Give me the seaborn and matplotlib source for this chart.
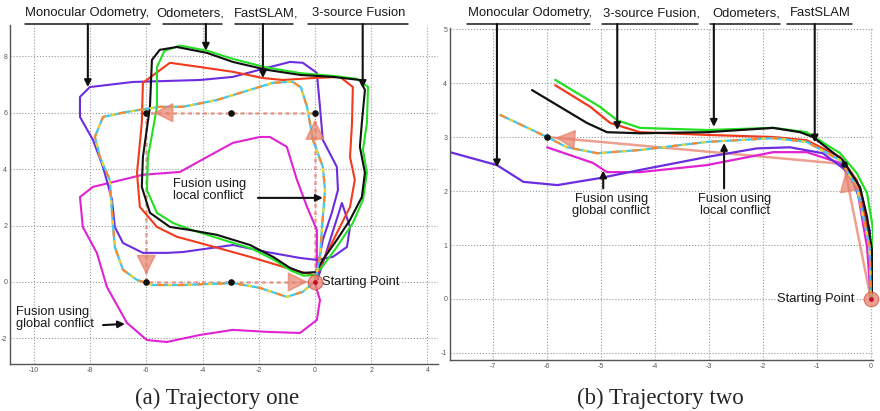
import matplotlib.pyplot as plt
import numpy as np
import seaborn as sns

# ---------------- (a) trajectory one ----------------
a_black_x = [0.07, 0.28, 0.78, 1.25, 1.67, 1.78, 1.6, 1.67, 1.78, 1.6, 1.25, 0.64, -0.53, -1.71, -2.92,
             -3.84, -4.91, -5.52, -5.8, -5.87, -6.12, -6.16, -5.87, -5.16, -4.5, -3.49, -2.31, -1.49,
             -0.89, -0.43, 0.07]
a_black_y = [0.43, 0.78, 1.49, 2.2, 3.01, 3.87, 4.79, 5.64, 6.81, 7.16, 7.2, 7.27, 7.34, 7.52, 7.8,
             8.12, 8.33, 8.23, 7.87, 6.21, 4.43, 3.37, 2.45, 1.95, 1.85, 1.67, 1.31, 0.89,
             0.5, 0.32, 0.35]
a_green_x = [0.18, 0.78, 1.35, 1.71, 1.85, 1.71, 1.85, 1.89, 1.5, 0.7, -0.5, -1.7, -2.9, -3.84, -4.8,
             -5.35, -5.62, -5.62, -5.94, -5.98, -5.62, -5.05, -4.4, -3.45, -2.25, -1.45, -0.85, -0.4, 0.1]
a_green_y = [0.43, 1.24, 2.09, 2.91, 3.87, 4.68, 5.64, 6.91, 7.2, 7.3, 7.4, 7.6, 7.9, 8.2, 8.38,
             8.2, 7.62, 6.21, 4.43, 3.26, 2.45, 2.09, 1.85, 1.55, 1.18, 0.78, 0.4, 0.22, 0.25]
a_red_x = [0.0, 0.07, 0.43, 0.89, 1.25, 1.42, 1.25, 1.32, 1.35, 0.89, -0.07, -1.14, -1.85, -2.92, -4.09,
           -5.16, -6.12, -6.16, -6.33, -6.23, -5.62, -4.91, -4.09, -2.31, -0.78, -0.07]
a_red_y = [0.0, 0.32, 1.03, 1.95, 2.66, 3.62, 4.43, 5.64, 6.91, 7.27, 7.23, 7.16, 7.23, 7.45, 7.62,
           7.77, 7.06, 5.64, 3.87, 2.66, 1.95, 1.6, 1.38, 0.89, 0.43, 0.25]
a_purple_x = [0.1, 0.1, 0.28, 0.6, 0.82, 0.78, 0.28, 0.18, 0.07, -0.43, -0.89, -1.71, -2.92, -4.09,
              -6.48, -8.01, -8.36, -8.36, -7.9, -7.54, -7.22, -7.12, -6.83, -6.12, -5.27, -4.70,
              -2.92, -1.71, -0.53, 0.07, 0.64, 1.14, 1.25, 0.96, 0.1]
a_purple_y = [0.1, 0.53, 1.49, 2.45, 3.26, 4.08, 5.04, 6.21, 7.41, 7.77, 7.8, 7.59, 7.27, 7.16,
              7.09, 6.91, 6.56, 5.85, 5.04, 4.08, 2.91, 1.95, 1.38, 1.03, 1.03, 1.06,
              1.31, 1.06, 0.85, 0.78, 0.89, 1.24, 1.95, 2.8, 0.1]
a_global_x = [0.0, 0.07, 0.07, -0.28, -0.64, -1.0, -1.6, -1.96, -2.92, -3.84, -4.8, -6.12, -7.9, -8.36,
              -8.26, -7.76, -7.4, -6.69, -5.98, -5.27, -4.09, -2.92, -1.71, -0.53, 0.07, 0.18, 0.07, 0.0]
a_global_y = [0.0, 0.53, 1.84, 2.66, 3.62, 4.79, 5.14, 5.14, 4.93, 4.43, 3.9, 3.8, 3.37, 3.01,
              1.95, 1.03, -0.18, -1.45, -2.06, -2.13, -1.88, -1.70, -1.77, -1.81, -1.35, -0.64, -0.28, 0.0]
a_local_x = [0.0, 0.18, 0.28, 0.36, 0.28, -0.07, -0.28, -0.5, -0.8, -1.49, -2.31, -3.49, -4.70, -5.52,
             -6.69, -7.54, -7.83, -7.65, -7.3, -7.22, -7.12, -6.83, -6.33, -5.77, -4.70, -2.92, -1.96,
             -1.0, -0.43, -0.07]
a_local_y = [0.0, 0.89, 2.3, 3.26, 4.08, 5.04, 6.21, 6.9, 7.1, 7.06, 6.81, 6.45, 6.21, 6.21,
             6.03, 5.85, 5.14, 4.43, 3.62, 2.45, 1.24, 0.43, 0.07, -0.11, -0.11, -0.04, -0.21,
             -0.53, -0.35, -0.04]
a_truth_x = [0, 0, -6, -6, 0]
a_truth_y = [0, 6, 6, 0, 0]
a_marks_x = [0, -3, -6, -6, -3]
a_marks_y = [6, 6, 6, 0, 0]

# ---------------- (b) trajectory two ----------------
b_green_x = [-5.85, -5.02, -4.70, -4.28, -3.04, -1.81, -1.19, -0.57, -0.26, -0.07, 0.04, 0.05, 0.02]
b_green_y = [4.06, 3.56, 3.31, 3.17, 3.13, 3.17, 3.09, 2.70, 2.33, 1.96, 1.3, 0.6, 0.04]
b_red_x = [-5.85, -5.2, -4.83, -4.28, -3.04, -1.81, -1.19, -0.57, -0.26, -0.15, 0.0, 0.02]
b_red_y = [3.96, 3.56, 3.26, 3.09, 3.04, 3.0, 2.94, 2.63, 2.20, 1.83, 0.9, 0.0]
b_black_x = [-6.28, -5.26, -4.89, -4.28, -3.04, -1.81, -1.31, -1.07, -0.52, -0.20, -0.07, 0.02, 0.02]
b_black_y = [3.87, 3.26, 3.09, 3.07, 3.09, 3.17, 3.09, 3.0, 2.57, 2.07, 1.52, 0.91, 0.11]
b_purple_x = [-7.8, -6.93, -6.44, -5.81, -5.02, -4.28, -3.04, -2.11, -1.5, -0.89, -0.39, -0.2, -0.02, 0.0]
b_purple_y = [2.72, 2.48, 2.17, 2.11, 2.24, 2.39, 2.63, 2.79, 2.81, 2.70, 2.33, 1.83, 1.28, 0.0]
b_global_x = [-6.0, -5.15, -4.89, -4.28, -3.04, -1.81, -1.19, -0.57, -0.26, -0.07, 0.0]
b_global_y = [2.81, 2.52, 2.35, 2.35, 2.48, 2.72, 2.72, 2.52, 2.07, 0.96, 0.0]
b_local_x = [-6.87, -6.0, -5.63, -5.07, -4.28, -3.04, -1.81, -1.19, -0.57, -0.26, -0.02, 0.0]
b_local_y = [3.41, 3.0, 2.81, 2.70, 2.76, 2.91, 2.98, 2.91, 2.57, 2.07, 0.96, 0.0]
b_truth_x = [0.0, -0.5, -6.0]
b_truth_y = [0.0, 2.5, 3.0]
b_marks_x = [-0.5, -6.0]
b_marks_y = [2.5, 3.0]

# top labels: (text, centre x, underline x0, x1, arrow x, arrow tip y)
a_labels = [("Monocular Odometry,", -8.10, -10.32, -5.87, -8.08, 6.91),
            ("Odometers,", -4.45, -5.41, -3.31, -3.88, 8.2),
            ("FastSLAM,", -1.74, -2.85, -0.78, -1.85, 7.23),
            ("3-source Fusion", 1.55, -0.25, 3.31, 1.7, 6.88)]
b_labels = [("Monocular Odometry,", -6.32, -7.48, -5.20, -6.93, 2.44),
            ("3-source Fusion,", -4.07, -4.98, -3.20, -4.70, 3.13),
            ("Odometers,", -2.30, -2.98, -1.69, -2.91, 3.19),
            ("FastSLAM", -0.94, -1.56, -0.35, -1.04, 2.9)]

C_BLACK = "#111111"
C_GREEN = "#22e022"
C_RED = "#f23a1c"
C_PURPLE = "#6c2de0"
C_MAGENTA = "#e022d2"
C_CYAN = "#3cc8f0"
C_SALMON = "#e8806a"

sns.set_style("white")
plt.rcParams["font.family"] = ["Liberation Sans", "DejaVu Sans"]
plt.rcParams["axes.unicode_minus"] = False
plt.rcParams["lines.solid_joinstyle"] = "round"
plt.rcParams["lines.solid_capstyle"] = "round"

fig = plt.figure(figsize=(8.8, 4.11), dpi=100)
ax_a = fig.add_axes([10 / 880, 47 / 411, 428 / 880, 339 / 411])
ax_b = fig.add_axes([450 / 880, 51 / 411, 423 / 880, 332 / 411])


def path(ax, xs, ys, color, lw=1.5, **kw):
    sns.lineplot(x=xs, y=ys, sort=False, estimator=None, color=color, lw=lw, ax=ax, **kw)


def local_path(ax, xs, ys):
    path(ax, xs, ys, C_CYAN, lw=1.6)
    path(ax, xs, ys, "#ff8a2a", lw=1.6, linestyle=(0, (3, 6)))
    path(ax, xs, ys, "#f2d22a", lw=1.6, linestyle=(4.5, (2, 7)))


def truth(ax, xs, ys, marks_x, marks_y, back, ls):
    path(ax, xs, ys, C_SALMON, lw=1.8, alpha=0.75, linestyle=ls)
    for i in range(len(xs) - 1):
        p0 = np.array([xs[i], ys[i]], float)
        p1 = np.array([xs[i + 1], ys[i + 1]], float)
        d = (p1 - p0) / np.linalg.norm(p1 - p0)
        tip = p1 - back * d
        ax.annotate("", xy=tip, xytext=tip - 0.6 * back * d,
                    arrowprops=dict(arrowstyle="-|>,head_length=0.9,head_width=0.45",
                                    color=C_SALMON, alpha=0.7, lw=1.2, mutation_scale=14,
                                    shrinkA=0, shrinkB=0))
    ax.scatter(marks_x, marks_y, s=14, color="#111111", zorder=6)
    ax.scatter([xs[0]], [ys[0]], s=110, color=C_SALMON, alpha=0.75, edgecolor="#d05040",
               linewidth=0.8, zorder=6, clip_on=False)
    ax.scatter([xs[0]], [ys[0]], s=6, color="#c01030", zorder=7, clip_on=False)


def style(ax, xlim, ylim, xticks, yticks):
    ax.set_xlim(*xlim)
    ax.set_ylim(*ylim)
    ax.set_xticks(xticks)
    ax.set_yticks(yticks)
    ax.grid(True, linestyle=":", color="#9a9a9a", lw=0.8)
    for s in ["top", "right"]:
        ax.spines[s].set_visible(False)
    for s in ["left", "bottom"]:
        ax.spines[s].set_color("#555555")
        ax.spines[s].set_linewidth(1.0)
    ax.tick_params(labelsize=5, colors="#555555", length=2, pad=2, direction="in")
    ax.set_xlabel("")
    ax.set_ylabel("")


def top_labels(ax, labels, ty, uy):
    tr = ax.get_xaxis_transform()
    for text, cx, x0, x1, axx, tip in labels:
        ax.text(cx, ty, text, transform=tr, ha="center", va="center", fontsize=9.4,
                color="#1a1a1a", clip_on=False)
        ax.plot([x0, x1], [uy, uy], transform=tr, color="#1a1a1a", lw=1.1, clip_on=False)
        ax.annotate("", xy=(axx, tip), xycoords="data", xytext=(axx, uy), textcoords=tr,
                    arrowprops=dict(arrowstyle="-|>", color="#111111", lw=1.5,
                                    mutation_scale=10, shrinkA=0, shrinkB=0),
                    annotation_clip=False)


def side_note(ax, text, tx, ty, src, tip, ha="left"):
    ax.text(tx, ty, text, ha=ha, va="center", fontsize=9.3, color="#1a1a1a", linespacing=1.0)
    if src is not None:
        ax.annotate("", xy=tip, xytext=src,
                    arrowprops=dict(arrowstyle="-|>", color="#111111", lw=1.5,
                                    mutation_scale=10, shrinkA=0, shrinkB=0))


# ---- panel (a)
truth(ax_a, a_truth_x, a_truth_y, a_marks_x, a_marks_y, 0.25, (0, (1.5, 1.5)))
path(ax_a, a_global_x, a_global_y, C_MAGENTA)
path(ax_a, a_purple_x, a_purple_y, C_PURPLE)
path(ax_a, a_red_x, a_red_y, C_RED)
path(ax_a, a_green_x, a_green_y, C_GREEN)
path(ax_a, a_black_x, a_black_y, C_BLACK)
local_path(ax_a, a_local_x, a_local_y)
style(ax_a, (-10.85, 4.38), (-2.91, 9.11), range(-10, 5, 2), range(-2, 9, 2))
top_labels(ax_a, a_labels, 1.035, 1.003)
side_note(ax_a, "Fusion using\nlocal conflict", -5.05, 3.26, (-2.03, 2.98), (0.28, 2.98))
side_note(ax_a, "Fusion using\nglobal conflict", -10.64, -1.28, (-7.54, -1.53), (-6.76, -1.49))
side_note(ax_a, "Starting Point", 0.25, 0.0, None, None)

# ---- panel (b)
truth(ax_b, b_truth_x, b_truth_y, b_marks_x, b_marks_y, 0.15, "-")
path(ax_b, b_global_x, b_global_y, C_MAGENTA, lw=1.6)
path(ax_b, b_purple_x, b_purple_y, C_PURPLE, lw=1.6)
path(ax_b, b_red_x, b_red_y, C_RED, lw=1.6)
path(ax_b, b_green_x, b_green_y, C_GREEN, lw=1.6)
path(ax_b, b_black_x, b_black_y, C_BLACK, lw=1.6)
local_path(ax_b, b_local_x, b_local_y)
style(ax_b, (-7.8, 0.04), (-1.13, 5.02), range(-7, 1), range(-1, 6))
top_labels(ax_b, b_labels, 1.045, 1.012)
side_note(ax_b, "Fusion using\nglobal conflict", -4.81, 1.74, (-4.96, 2.05), (-4.96, 2.38), ha="center")
side_note(ax_b, "Fusion using\nlocal conflict", -2.52, 1.74, (-2.72, 2.05), (-2.72, 2.89), ha="center")
side_note(ax_b, "Starting Point", -0.3, 0.0, None, None, ha="right")

fig.text(217 / 880, 13 / 411, "(a) Trajectory one", ha="center", va="center",
         family=["Liberation Serif", "DejaVu Serif"], fontsize=16.5)
fig.text(660 / 880, 13 / 411, "(b) Trajectory two", ha="center", va="center",
         family=["Liberation Serif", "DejaVu Serif"], fontsize=16.5)

fig.savefig("out.png", dpi=100)
